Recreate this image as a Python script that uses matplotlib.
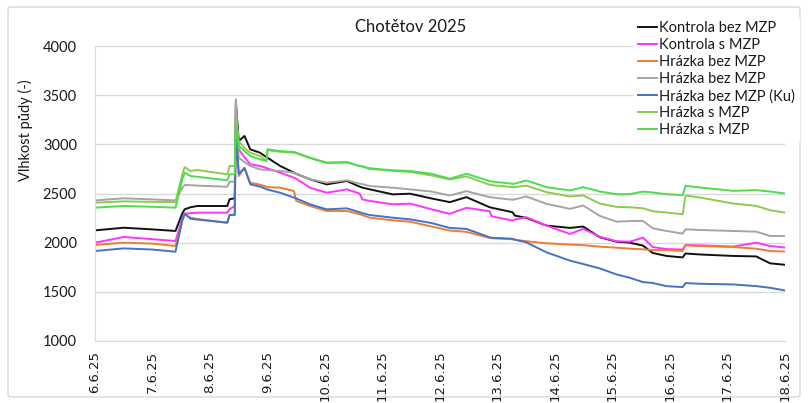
import matplotlib
matplotlib.use("Agg")
import matplotlib.pyplot as plt
from matplotlib.patches import FancyBboxPatch

# Time of measurement: day of June 2025 (fractional part = time of day)
cas = [6.00, 6.50, 7.00, 7.40, 7.52, 7.56, 7.66, 7.78, 8.30, 8.34,
       8.43, 8.45, 8.50, 8.60, 8.70, 8.87, 8.98, 9.00, 9.22, 9.46,
       9.50, 9.74, 10.03, 10.38, 10.60, 10.65, 10.78, 11.18, 11.48, 11.85,
       12.17, 12.46, 12.86, 12.90, 13.26, 13.30, 13.50, 13.85, 14.26, 14.49,
       14.78, 15.07, 15.30, 15.53, 15.70, 15.94, 16.22, 16.27, 16.52, 17.10,
       17.50, 17.74, 18.00]

kontrola_bez_mzp = [2125, 2152, 2135, 2119, 2300, 2339, 2360, 2373, 2373, 2441,
                    2451, 3430, 3034, 3085, 2949, 2915, 2870, 2864, 2780, 2712,
                    2700, 2644, 2593, 2627, 2570, 2560, 2542, 2491, 2498, 2450,
                    2412, 2463, 2361, 2355, 2310, 2276, 2252, 2174, 2150, 2164,
                    2055, 2010, 2000, 1970, 1895, 1865, 1850, 1890, 1880, 1865,
                    1860, 1790, 1775]

kontrola_s_mzp = [2000, 2058, 2035, 2017, 2250, 2295, 2300, 2305, 2305, 2340,
                  2373, 3350, 2949, 2870, 2797, 2780, 2760, 2755, 2712, 2661,
                  2650, 2559, 2508, 2542, 2500, 2440, 2424, 2390, 2397, 2340,
                  2293, 2354, 2320, 2268, 2225, 2235, 2259, 2174, 2089, 2140,
                  2060, 2015, 2010, 2051, 1955, 1935, 1930, 1975, 1973, 1960,
                  2000, 1966, 1950]

hrazka_bez_mzp_1 = [1976, 2000, 1990, 1966, 2230, 2288, 2254, 2240, 2203, 2281,
                    2281, 3300, 2678, 2760, 2610, 2590, 2570, 2565, 2559, 2525,
                    2424, 2373, 2322, 2322, 2290, 2280, 2254, 2227, 2213, 2165,
                    2123, 2110, 2048, 2045, 2035, 2030, 2015, 1994, 1980, 1975,
                    1959, 1949, 1939, 1932, 1925, 1925, 1915, 1973, 1966, 1955,
                    1939, 1915, 1910]

hrazka_bez_mzp_2 = [2430, 2451, 2440, 2430, 2560, 2586, 2585, 2580, 2569, 2620,
                    2620, 3460, 2864, 2820, 2780, 2746, 2740, 2738, 2729, 2712,
                    2700, 2644, 2610, 2634, 2600, 2595, 2576, 2559, 2542, 2520,
                    2480, 2524, 2463, 2460, 2436, 2440, 2470, 2395, 2344, 2378,
                    2272, 2214, 2220, 2221, 2146, 2119, 2092, 2136, 2129, 2119,
                    2112, 2068, 2068]

hrazka_bez_mzp_ku = [1915, 1942, 1930, 1908, 2230, 2295, 2244, 2235, 2203, 2281,
                     2285, 3100, 2700, 2760, 2593, 2570, 2545, 2540, 2508, 2458,
                     2450, 2390, 2339, 2349, 2310, 2300, 2281, 2254, 2237, 2200,
                     2150, 2140, 2055, 2050, 2040, 2030, 2004, 1902, 1817, 1783,
                     1738, 1677, 1643, 1599, 1590, 1558, 1548, 1589, 1582, 1575,
                     1558, 1541, 1514]

hrazka_s_mzp_1 = [2407, 2420, 2415, 2413, 2700, 2769, 2729, 2739, 2695, 2780,
                  2780, 3250, 3034, 2960, 2915, 2881, 2830, 2940, 2925, 2915,
                  2910, 2860, 2810, 2815, 2780, 2775, 2750, 2730, 2720, 2684,
                  2643, 2674, 2590, 2585, 2565, 2565, 2580, 2514, 2470, 2480,
                  2398, 2364, 2360, 2350, 2320, 2306, 2289, 2480, 2459, 2398,
                  2374, 2330, 2306]

hrazka_s_mzp_2 = [2356, 2373, 2365, 2356, 2650, 2712, 2678, 2670, 2634, 2695,
                  2695, 3200, 2983, 2930, 2881, 2847, 2830, 2949, 2932, 2922,
                  2915, 2864, 2814, 2820, 2780, 2775, 2756, 2736, 2729, 2701,
                  2650, 2701, 2626, 2622, 2599, 2600, 2633, 2565, 2531, 2565,
                  2520, 2493, 2493, 2520, 2510, 2493, 2483, 2578, 2561, 2527,
                  2534, 2520, 2500]

nazvy = ["Kontrola bez MZP", "Kontrola s MZP", "Hrázka bez MZP", "Hrázka bez MZP",
         "Hrázka bez MZP (Ku)", "Hrázka s MZP", "Hrázka s MZP"]
barvy = ["#111111", "#FF33FF", "#ED7D31", "#A5A5A5", "#4472C4", "#8CCB4E", "#4EDC4E"]
rady = [kontrola_bez_mzp, kontrola_s_mzp, hrazka_bez_mzp_1, hrazka_bez_mzp_2,
        hrazka_bez_mzp_ku, hrazka_s_mzp_1, hrazka_s_mzp_2]

dny = list(range(6, 19))
popisky_dnu = [f"{d}.6.25" for d in dny]

plt.rcParams["font.family"] = ["Lato", "DejaVu Sans"]

fig = plt.figure(figsize=(8.08, 4.03), dpi=100)
ax = fig.add_axes([95 / 808, 1 - 341 / 403, 690 / 808, 295 / 403])

for hodnoty, barva, nazev in zip(rady, barvy, nazvy):
    ax.plot(cas, hodnoty, color=barva, lw=1.4, label=nazev, solid_joinstyle="round")

ax.set_xlim(6, 18)
ax.set_ylim(1000, 4000)
ax.set_yticks(range(1000, 4001, 500))
ax.set_xticks(dny)
ax.set_xticklabels(popisky_dnu, rotation=90, fontfamily="DejaVu Sans",
                   fontsize=9.5, color="#1a1a1a")
ax.tick_params(axis="both", length=0)
ax.tick_params(axis="y", labelsize=10.5, labelcolor="#1a1a1a", pad=13)
ax.tick_params(axis="x", pad=7)
ax.grid(axis="y", color="#D9D9D9", lw=1.0)
ax.set_axisbelow(True)
for side in ("top", "right"):
    ax.spines[side].set_visible(False)
ax.spines["left"].set_color("#D9D9D9")
ax.spines["bottom"].set_color("#D9D9D9")

fig.text(25 / 808, 1 - 130 / 403, "Vlhkost půdy (-)", rotation=90,
         ha="center", va="center", fontsize=10.5, color="#1a1a1a")
fig.text(411 / 808, 1 - 27 / 403, "Chotětov 2025", ha="center", va="center",
         fontsize=12, color="#1a1a1a")

leg = fig.legend(loc="upper left", bbox_to_anchor=(634 / 808, 1 - 17 / 403),
                 frameon=True, fontsize=10.5, handlelength=1.25,
                 handletextpad=0.15, labelspacing=0.2, borderpad=0.3,
                 borderaxespad=0)
leg.get_frame().set_facecolor("white")
leg.get_frame().set_edgecolor("white")
leg.get_frame().set_alpha(1.0)
for t in leg.get_texts():
    t.set_color("#1a1a1a")
for h in leg.get_lines():
    h.set_linewidth(1.4)

fig.patches.append(FancyBboxPatch((8 / 808, 6 / 403), 792 / 808, 390 / 403,
                                  boxstyle="round,pad=0,rounding_size=0.005",
                                  transform=fig.transFigure, fill=False,
                                  edgecolor="#D9D9D9", lw=1.0))

fig.savefig("out.png", dpi=100)
